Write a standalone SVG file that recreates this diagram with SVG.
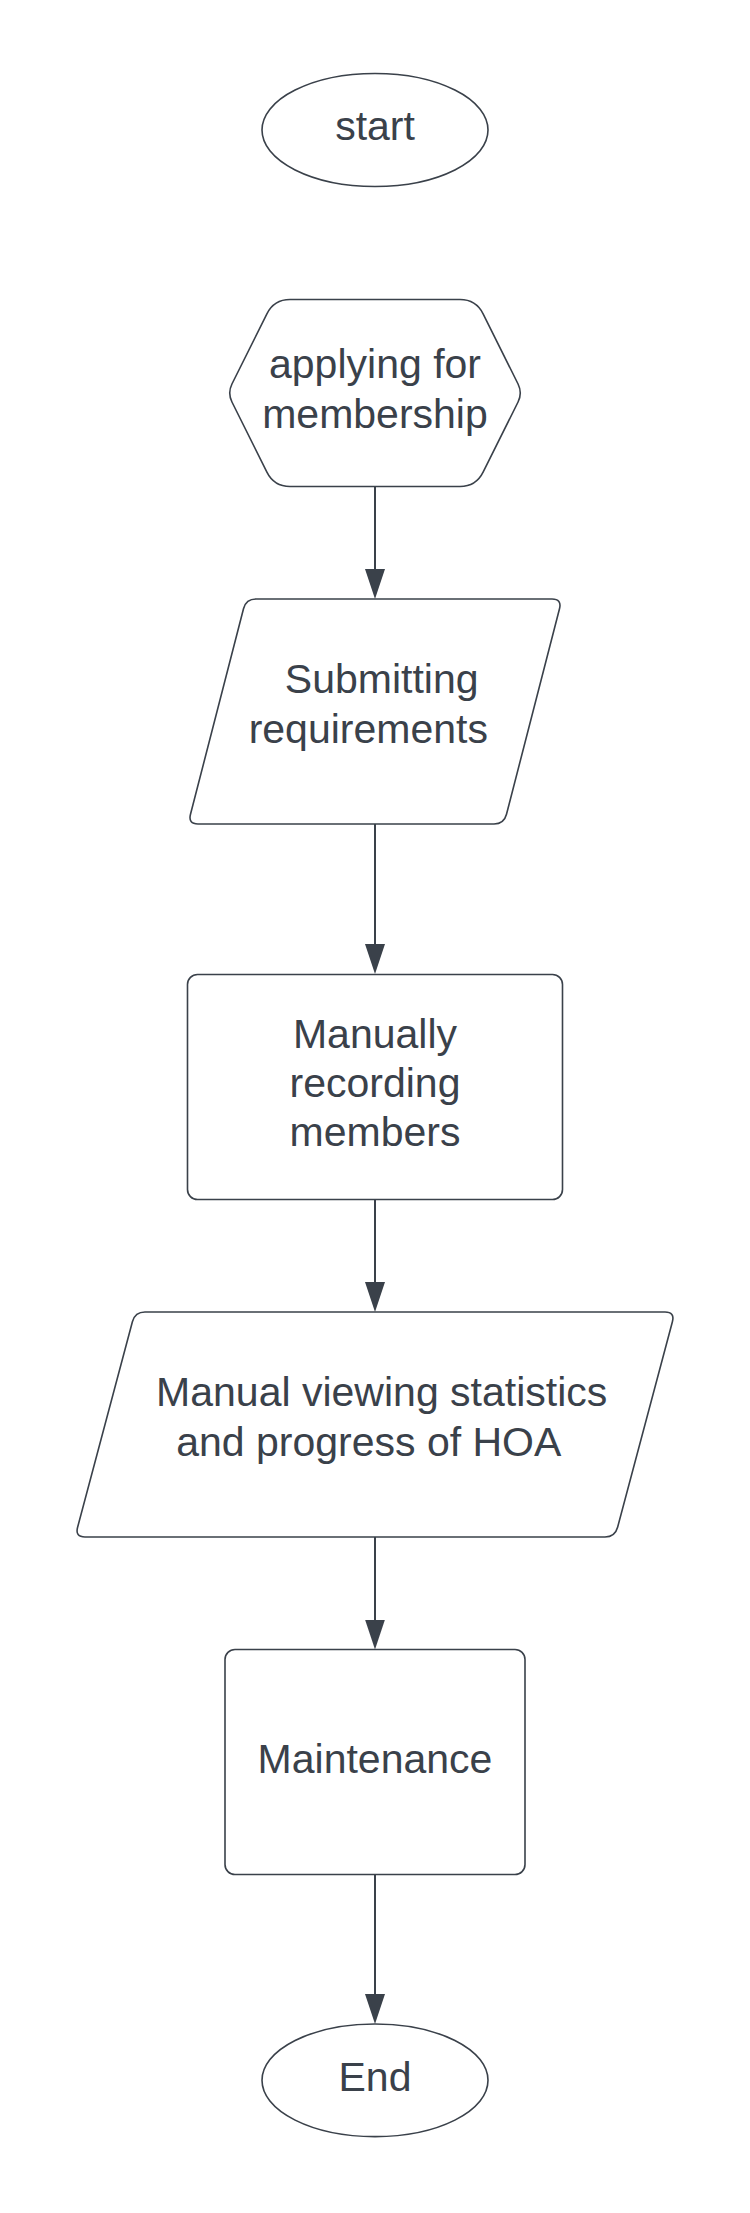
<svg xmlns="http://www.w3.org/2000/svg" width="750" height="2213" viewBox="0 0 750 2213">
<style>
.shape{fill:#ffffff;stroke:#3a414a;stroke-width:1.6}
.lbl{font-family:"Liberation Sans",Arial,sans-serif;font-size:41px;fill:#3a414a;text-anchor:middle}
.conn{stroke:#3a414a;stroke-width:2;fill:none}
</style>
<defs>
<marker id="arr" viewBox="0 0 30 20" refX="26" refY="10" markerWidth="30" markerHeight="20" markerUnits="userSpaceOnUse" orient="auto">
<path d="M0,0 L30,10 L0,20 Z" fill="#3a414a"/>
</marker>
</defs>
<rect width="750" height="2213" fill="#ffffff"/>
<g id="connectors">
<line class="conn" x1="375" y1="486.5" x2="375" y2="595" marker-end="url(#arr)"/>
<line class="conn" x1="375" y1="824" x2="375" y2="970" marker-end="url(#arr)"/>
<line class="conn" x1="375" y1="1199.5" x2="375" y2="1308" marker-end="url(#arr)"/>
<line class="conn" x1="375" y1="1537" x2="375" y2="1645.5" marker-end="url(#arr)"/>
<line class="conn" x1="375" y1="1874.5" x2="375" y2="2020" marker-end="url(#arr)"/>
</g>
<g id="start">
<ellipse class="shape" cx="375" cy="130" rx="113" ry="56.5"/>
<text class="lbl" x="375" y="140">start</text>
</g>
<g id="applying">
<path class="shape" d="M290,299.5 L460,299.5 Q476,299.5 483.1,313.8 L518.05,384 Q522.5,393 518.05,402 L483.1,472.2 Q476,486.5 460,486.5 L290,486.5 Q274,486.5 266.9,472.2 L231.95,402 Q227.5,393 231.95,384 L266.9,313.8 Q274,299.5 290,299.5 Z"/>
<text class="lbl" x="375" y="378">applying for</text>
<text class="lbl" x="375" y="428">membership</text>
</g>
<g id="submitting">
<path class="shape" d="M256,599 L552,599 Q562,599 559.5,608.7 L506.5,814.3 Q504,824 494,824 L198,824 Q188,824 190.5,814.3 L243.5,608.7 Q246,599 256,599 Z"/>
<text class="lbl" x="381.7" y="692.5">Submitting</text>
<text class="lbl" x="368.3" y="743">requirements</text>
</g>
<g id="recording">
<rect class="shape" x="187.5" y="974.5" width="375" height="225" rx="10" ry="10"/>
<text class="lbl" x="375" y="1048">Manually</text>
<text class="lbl" x="375" y="1097">recording</text>
<text class="lbl" x="375" y="1146">members</text>
</g>
<g id="viewing">
<path class="shape" d="M145,1312 L665,1312 Q675,1312 672.4,1321.7 L617.6,1527.3 Q615,1537 605,1537 L85,1537 Q75,1537 77.6,1527.3 L132.4,1321.7 Q135,1312 145,1312 Z"/>
<text class="lbl" x="381.7" y="1406">Manual viewing statistics</text>
<text class="lbl" x="368.8" y="1456">and progress of HOA</text>
</g>
<g id="maintenance">
<rect class="shape" x="225" y="1649.5" width="300" height="225" rx="10" ry="10"/>
<text class="lbl" x="375" y="1773">Maintenance</text>
</g>
<g id="end">
<ellipse class="shape" cx="375" cy="2080.3" rx="113" ry="56.3"/>
<text class="lbl" x="375" y="2090.7">End</text>
</g>
</svg>
